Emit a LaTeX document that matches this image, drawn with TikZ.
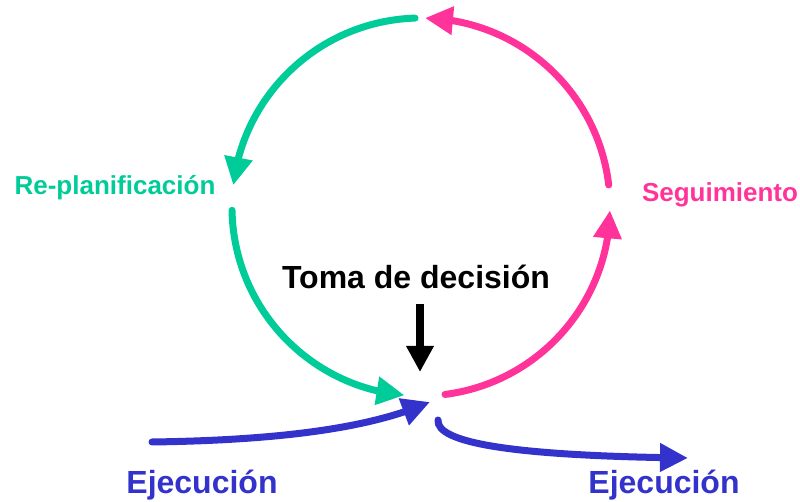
\documentclass[tikz,border=0pt]{standalone}
\usepackage{fontspec}
\setmainfont{Liberation Sans}
\usetikzlibrary{arrows.meta,bending}
\definecolor{verde}{HTML}{00CC99}
\definecolor{rosa}{HTML}{FF3399}
\definecolor{azul}{HTML}{3333CC}
\begin{document}
\begin{tikzpicture}[x=1pt,y=1pt,
    flecha/.style={line width=7pt,line cap=round,-{Triangle[length=28pt,width=27pt,flex]}},
    etiqueta/.style={font=\bfseries\fontsize{26}{30}\selectfont},
    grande/.style={font=\bfseries\fontsize{32}{36}\selectfont}]
    \useasboundingbox (0,0) rectangle (800,502);

    %NODE
    \coordinate (c) at (421,295);
    \coordinate (r1) at ([shift={(-82.7:189)}]c);
    \coordinate (r2) at ([shift={(6.7:189)}]c);
    \coordinate (v1) at ([shift={(91.8:189)}]c);
    \coordinate (v2) at ([shift={(181:189)}]c);
    \coordinate (inicio) at (152,60);
    \coordinate (punta) at (430,100);
    \coordinate (salida) at (438,82);
    \coordinate (fin) at (688,44);
    \coordinate (dec) at (420,130);

    \node[grande] (toma) at (416,225) {Toma de decisión};
    \node[etiqueta,text=rosa] (seg) at (720,307) {Seguimiento};
    \node[etiqueta,text=verde] (replan) at (115,314) {Re-planificación};
    \node[grande,text=azul] (ej1) at (202,17) {Ejecución};
    \node[grande,text=azul] (ej2) at (664,17) {Ejecución};

    %EDGE
    \draw[flecha,rosa] (r1) arc[start angle=-82.7,end angle=-1,radius=189];
    \draw[flecha,rosa] (r2) arc[start angle=6.7,end angle=88.8,radius=189];
    \draw[flecha,verde] (v1) arc[start angle=91.8,end angle=173.4,radius=189];
    \draw[flecha,verde] (v2) arc[start angle=181,end angle=265,radius=189];
    \draw[flecha,azul] (inicio) .. controls (300,62) and (380,78) .. (punta);
    \draw[flecha,azul] (salida) .. controls (436,58) and (520,46) .. (fin);
    \draw[line width=8pt,-{Triangle[length=26pt,width=26pt]}] (toma.south) ++(4,-12) coordinate (t) (t) -- (dec);
\end{tikzpicture}
\end{document}
